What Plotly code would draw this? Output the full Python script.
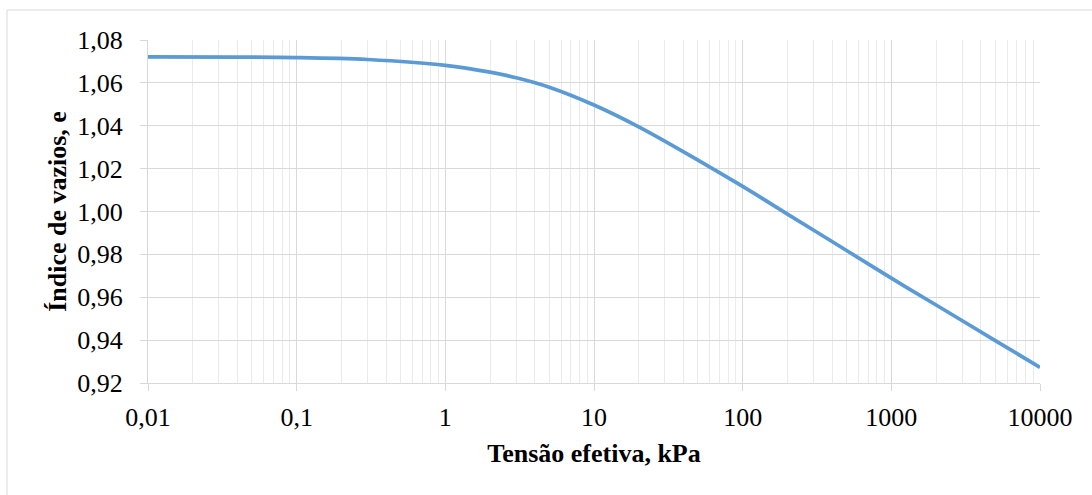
import plotly.graph_objects as go

# Data
tensao = [0.01, 0.1, 0.3, 1, 2, 3, 5, 10, 20, 50, 100, 200, 500, 1000, 2000, 5000, 10000]
indice_vazios = [1.0721, 1.0718, 1.0709, 1.0682, 1.0650, 1.0624, 1.0580, 1.0497, 1.0395,
                 1.0240, 1.0117, 0.9988, 0.9818, 0.9689, 0.9564, 0.9398, 0.9273]

x_tickvals = [0.01, 0.1, 1, 10, 100, 1000, 10000]
x_ticktext = ["0,01", "0,1", "1", "10", "100", "1000", "10000"]
minor_vals = [m * 10 ** p for p in range(-2, 4) for m in range(2, 10)]

FONT = "Liberation Serif"
GRID = "#d9d9d9"
MINOR = "#ebebeb"

fig = go.Figure()
fig.add_trace(go.Scatter(
    x=tensao, y=indice_vazios, mode="lines",
    line=dict(color="#5b9bd5", width=3.7, shape="spline", smoothing=1.0),
    showlegend=False, hoverinfo="skip"))

fig.update_layout(
    width=1092, height=495,
    margin=dict(l=148, r=52, t=40, b=112),
    paper_bgcolor="white", plot_bgcolor="white",
    separators=",.",
    font=dict(family=FONT, size=26, color="black"),
    shapes=[dict(type="rect", xref="paper", yref="paper",
                 x0=(7 - 148) / 892, x1=1.2, y0=-0.5, y1=(383 - 10) / 343,
                 line=dict(color=GRID, width=1), layer="below")],
)

fig.update_xaxes(
    type="log", range=[-2, 4],
    tickvals=x_tickvals, ticktext=x_ticktext,
    showgrid=True, gridcolor=GRID, gridwidth=1,
    minor=dict(tickvals=minor_vals, showgrid=True, gridcolor=MINOR, gridwidth=1, ticks=""),
    showline=True, linecolor=GRID, linewidth=1,
    ticks="outside", ticklen=7, tickcolor=GRID,
    ticklabelstandoff=4,
    tickfont=dict(family=FONT, size=26),
    title=dict(text="<b>Tensão efetiva, kPa</b>", font=dict(family=FONT, size=26), standoff=12),
    zeroline=False,
)
fig.update_yaxes(
    range=[0.92, 1.08], dtick=0.02, tick0=0.92, tickformat=".2f",
    showgrid=True, gridcolor=GRID, gridwidth=1,
    showline=True, linecolor=GRID, linewidth=1,
    ticks="outside", ticklen=7, tickcolor=GRID,
    ticklabelstandoff=12,
    tickfont=dict(family=FONT, size=26),
    title=dict(text="<b>Índice de vazios, e</b>", font=dict(family=FONT, size=26), standoff=3),
    zeroline=False,
)

fig.write_html("out.html")
